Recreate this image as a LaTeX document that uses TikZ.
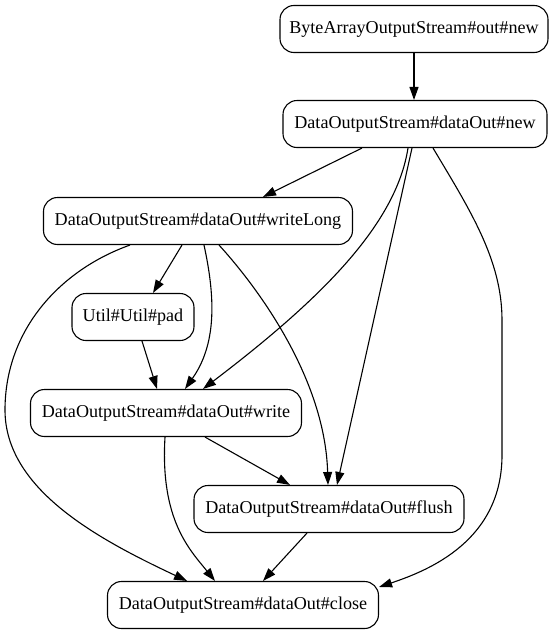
\documentclass[tikz,border=0pt]{standalone}
\usepackage{fontspec}
\setmainfont{Liberation Serif}
\usetikzlibrary{arrows.meta}
\begin{document}
\begin{tikzpicture}[x=1pt,y=-1pt,
  box/.style={draw,line width=1.1pt,rounded corners=14pt,minimum height=47pt,inner sep=0pt,
    font=\fontsize{18.1}{21}\selectfont},
  edge/.style={line width=1.1pt,-{Triangle[length=13pt,width=9pt]}}]
\useasboundingbox (0,0) rectangle (556,635);
\node[box,minimum width=268pt] (n1) at (414,29) {ByteArrayOutputStream\#out\#new};
\node[box,minimum width=264pt] (n2) at (415,124) {DataOutputStream\#dataOut\#new};
\node[box,minimum width=309pt] (n3) at (198,221) {DataOutputStream\#dataOut\#writeLong};
\node[box,minimum width=122pt] (n4) at (133,317) {Util\#Util\#pad};
\node[box,minimum width=271pt] (n5) at (166,413) {DataOutputStream\#dataOut\#write};
\node[box,minimum width=270pt] (n6) at (329,509) {DataOutputStream\#dataOut\#flush};
\node[box,minimum width=271pt] (n7) at (243,605) {DataOutputStream\#dataOut\#close};

\draw[edge] (n1.south) -- ([xshift=-1pt]n2.north);
\draw[edge] ([xshift=-53pt]n2.south) -- ([xshift=65pt]n3.north);
\draw[edge] ([xshift=-7pt]n2.south) .. controls (396,225) and (320,300) .. ([xshift=37pt]n5.north);
\draw[edge] ([xshift=-3pt]n2.south) -- ([xshift=8pt]n6.north);
\draw[edge] ([xshift=18pt]n2.south) .. controls (470,210) and (502,260) .. (502,320)
  -- (502,455) .. controls (502,540) and (430,570) .. ([yshift=18pt]n7.east);

\draw[edge] ([xshift=-16pt]n3.south) -- ([xshift=20pt]n4.north);
\draw[edge] ([xshift=6pt]n3.south) .. controls (216,300) and (216,345) .. ([xshift=19pt]n5.north);
\draw[edge] ([xshift=21pt]n3.south) .. controls (260,290) and (325,380) .. ([xshift=-1pt]n6.north);
\draw[edge] ([xshift=-68pt]n3.south) .. controls (60,270) and (5,330) .. (5,410)
  .. controls (5,490) and (100,540) .. ([xshift=-56pt]n7.north);

\draw[edge] ([xshift=9pt]n4.south) -- ([xshift=-9pt]n5.north);
\draw[edge] ([xshift=39pt]n5.south) -- ([xshift=-39pt]n6.north);
\draw[edge] ([xshift=-1pt]n5.south) .. controls (160,520) and (190,550) .. ([xshift=-28pt]n7.north);
\draw[edge] ([xshift=-22pt]n6.south) -- ([xshift=20pt]n7.north);
\end{tikzpicture}
\end{document}
